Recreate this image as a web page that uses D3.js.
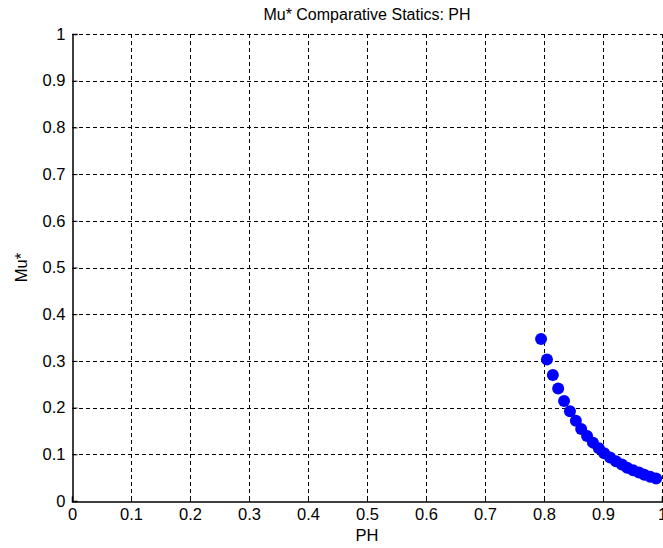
<!DOCTYPE html>
<html>
<head>
<meta charset="utf-8">
<script src="https://cdn.jsdelivr.net/npm/d3@7"></script>
<style>
  body { margin: 0; background: #fff; }
  text { font-family: "Liberation Sans", Arial, sans-serif; fill: #000; }
</style>
</head>
<body>
<div id="chartContainer"></div>
<script>
// PH values (x) and Mu* values (y)
var ph = [0.795, 0.805, 0.815, 0.824, 0.834, 0.844, 0.854, 0.863, 0.873, 0.883,
          0.893, 0.902, 0.912, 0.922, 0.932, 0.941, 0.951, 0.961, 0.970, 0.980, 0.990];
var mu = [0.347, 0.303, 0.270, 0.241, 0.214, 0.192, 0.172, 0.154, 0.139, 0.125,
          0.113, 0.102, 0.093, 0.085, 0.078, 0.071, 0.066, 0.061, 0.056, 0.052, 0.048];
var xTicks = [0, 0.1, 0.2, 0.3, 0.4, 0.5, 0.6, 0.7, 0.8, 0.9, 1];
var yTicks = [0, 0.1, 0.2, 0.3, 0.4, 0.5, 0.6, 0.7, 0.8, 0.9, 1];

function init() {
    var w = 663, h = 548;
    var left = 72, right = 662, top = 34, bottom = 501;

    var svg = d3.select("#chartContainer")
                .append("svg")
                .attr("width", w)
                .attr("height", h);

    var x = d3.scaleLinear().domain([0, 1]).range([left, right]);
    var y = d3.scaleLinear().domain([0, 1]).range([bottom, top]);

    // dashed grid
    var grid = svg.append("g")
                  .attr("stroke", "#000")
                  .attr("stroke-width", 1)
                  .attr("stroke-dasharray", "4,3");
    grid.selectAll(".vg")
        .data(xTicks.filter(d => d > 0))
        .enter().append("line")
        .attr("x1", d => Math.round(x(d)) + 0.5)
        .attr("x2", d => Math.round(x(d)) + 0.5)
        .attr("y1", top)
        .attr("y2", bottom);
    grid.selectAll(".hg")
        .data(yTicks.filter(d => d > 0))
        .enter().append("line")
        .attr("x1", left)
        .attr("x2", right)
        .attr("y1", d => Math.round(y(d)) + 0.5)
        .attr("y2", d => Math.round(y(d)) + 0.5);

    // axes (ticks point inwards like MATLAB)
    var xAxis = d3.axisBottom(x).tickValues(xTicks).tickSize(-5).tickPadding(7)
                  .tickFormat(d3.format("~g"));
    var yAxis = d3.axisLeft(y).tickValues(yTicks).tickSize(-5).tickPadding(7)
                  .tickFormat(d3.format("~g"));

    var gx = svg.append("g")
                .attr("transform", "translate(0," + (bottom + 0.5) + ")")
                .call(xAxis);
    var gy = svg.append("g")
                .attr("transform", "translate(" + (left + 0.5) + ",0)")
                .call(yAxis);

    [gx, gy].forEach(function(g) {
        g.select(".domain").attr("stroke", "#000").attr("stroke-width", 1.5);
        g.selectAll(".tick line").attr("stroke", "#000");
        g.selectAll(".tick text")
         .style("font-family", "'Liberation Sans', Arial, sans-serif")
         .style("font-size", "16.5px")
         .attr("fill", "#000");
    });

    // points
    var pts = ph.map((d, i) => ({ x: d, y: mu[i] }));
    svg.selectAll("circle")
       .data(pts)
       .enter()
       .append("circle")
       .attr("cx", d => x(d.x))
       .attr("cy", d => y(d.y))
       .attr("r", 6)
       .attr("fill", "#0000ff");

    // title and labels
    svg.append("text")
       .attr("x", (left + right) / 2)
       .attr("y", 20)
       .attr("text-anchor", "middle")
       .style("font-size", "16px")
       .text("Mu* Comparative Statics: PH");

    svg.append("text")
       .attr("x", (left + right) / 2)
       .attr("y", 541)
       .attr("text-anchor", "middle")
       .style("font-size", "16.5px")
       .text("PH");

    svg.append("text")
       .attr("transform", "translate(27," + ((top + bottom) / 2) + ") rotate(-90)")
       .attr("text-anchor", "middle")
       .style("font-size", "16.5px")
       .text("Mu*");
}

window.onload = init;
</script>
</body>
</html>
